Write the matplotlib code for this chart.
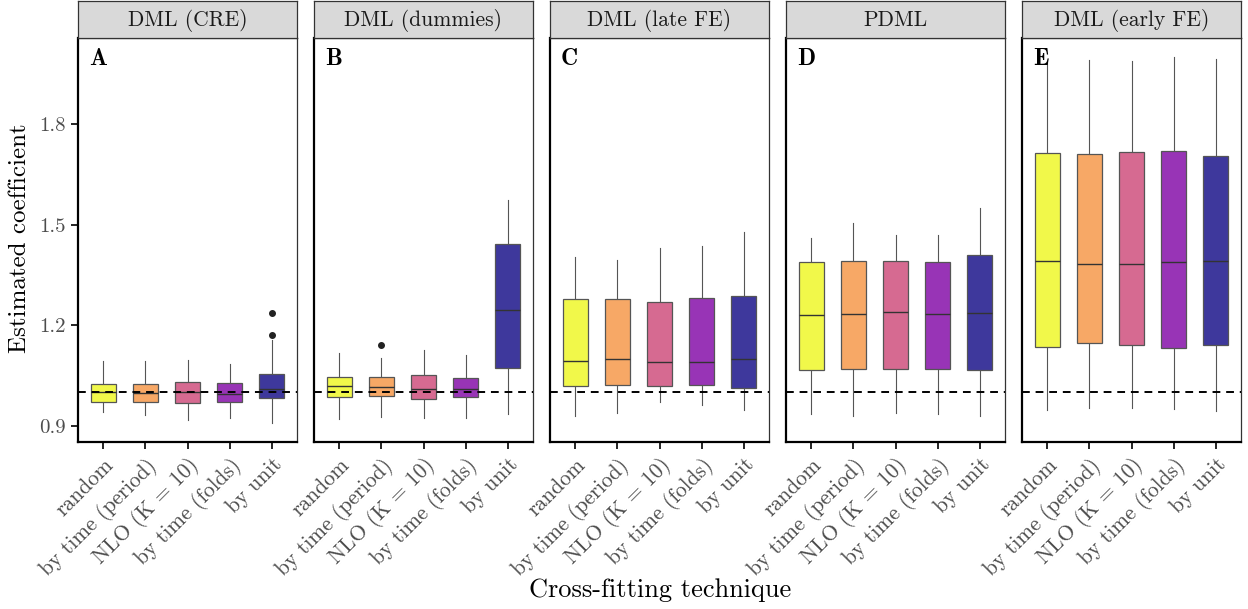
import numpy as np
import matplotlib
matplotlib.use('Agg')
import matplotlib.pyplot as plt

plt.rcParams['font.family'] = ['cmr10', 'DejaVu Serif']
plt.rcParams['axes.formatter.use_mathtext'] = True
plt.rcParams['mathtext.fontset'] = 'cm'

##facets and categories
panels = ['DML (CRE)', 'DML (dummies)', 'DML (late FE)', 'PDML', 'DML (early FE)']
letters = ['A', 'B', 'C', 'D', 'E']
techniques = ['random', 'by time (period)', 'NLO (K = 10)', 'by time (folds)', 'by unit']
colors = ['#F1F84A', '#F7A866', '#D66A91', '#9834B6', '#3E389C']

##five number summaries: [whislo, q1, med, q3, whishi]
crefive = [[0.940, 0.972, 1.001, 1.026, 1.092],
           [0.932, 0.972, 0.999, 1.026, 1.092],
           [0.918, 0.968, 1.002, 1.032, 1.097],
           [0.923, 0.971, 0.994, 1.029, 1.084],
           [0.910, 0.984, 1.011, 1.055, 1.156]]
dummiesfive = [[0.922, 0.987, 1.020, 1.047, 1.117],
               [0.926, 0.989, 1.017, 1.047, 1.102],
               [0.925, 0.980, 1.009, 1.053, 1.127],
               [0.923, 0.986, 1.011, 1.044, 1.111],
               [0.936, 1.074, 1.245, 1.443, 1.573]]
latefive = [[0.928, 1.019, 1.094, 1.278, 1.402],
            [0.938, 1.023, 1.098, 1.278, 1.395],
            [0.972, 1.020, 1.089, 1.270, 1.429],
            [0.963, 1.023, 1.090, 1.281, 1.436],
            [0.948, 1.014, 1.099, 1.288, 1.477]]
pdmlfive = [[0.936, 1.067, 1.231, 1.388, 1.459],
            [0.928, 1.070, 1.234, 1.391, 1.504],
            [0.938, 1.070, 1.239, 1.390, 1.469],
            [0.935, 1.069, 1.233, 1.387, 1.468],
            [0.930, 1.067, 1.236, 1.409, 1.549]]
earlyfive = [[0.948, 1.134, 1.391, 1.713, 1.981],
             [0.953, 1.146, 1.382, 1.711, 1.991],
             [0.954, 1.140, 1.381, 1.716, 1.988],
             [0.950, 1.132, 1.387, 1.719, 1.999],
             [0.943, 1.141, 1.391, 1.705, 1.994]]
allfive = [crefive, dummiesfive, latefive, pdmlfive, earlyfive]

##outliers: (panel, technique, value)
outliers = [(0, 4, 1.236), (0, 4, 1.170), (1, 1, 1.140)]

W, H = 1248, 609
fig = plt.figure(figsize=(W / 100, H / 100), dpi=100)

left0 = 78
pw = 219
gap = 17
ptop = 38
pbot = 442
ymin, ymax = 0.852, 2.056

for i, name in enumerate(panels):
    x0 = left0 + i * (pw + gap)
    ax = fig.add_axes([x0 / W, 1 - pbot / H, pw / W, (pbot - ptop) / H])
    stats = []
    for j, f in enumerate(allfive[i]):
        fl = [o[2] for o in outliers if o[0] == i and o[1] == j]
        stats.append(dict(whislo=f[0], q1=f[1], med=f[2], q3=f[3], whishi=f[4], fliers=fl))
    bp = ax.bxp(stats, positions=np.arange(1, 6), widths=0.6, patch_artist=True,
                showcaps=False,
                boxprops=dict(edgecolor='#555555', linewidth=0.9),
                medianprops=dict(color='#333333', linewidth=1.0),
                whiskerprops=dict(color='#555555', linewidth=0.8),
                flierprops=dict(marker='o', markerfacecolor='#222222', markeredgecolor='#222222',
                                markersize=4))
    for patch, c in zip(bp['boxes'], colors):
        patch.set_facecolor(c)
    for wl in bp['whiskers']:
        wl.set_zorder(1)
    ax.axhline(1.0, color='black', linestyle=(0, (4, 3)), linewidth=1.4, zorder=3)
    ax.set_xlim(0.4, 5.6)
    ax.set_ylim(ymin, ymax)
    ax.set_xticks(np.arange(1, 6))
    ax.set_xticklabels(techniques, rotation=45, ha='right', rotation_mode='anchor', fontsize=15.5,
                       color='#4d4d4d')
    ax.tick_params(axis='x', length=5, width=1.2, pad=4)
    ax.set_yticks([0.9, 1.2, 1.5, 1.8])
    if i == 0:
        ax.set_yticklabels(['0.9', '1.2', '1.5', '1.8'], fontsize=15, color='#4d4d4d')
        ax.tick_params(axis='y', length=5, width=1.2)
    else:
        ax.tick_params(axis='y', left=False, labelleft=False)
    for s in ['top', 'right']:
        ax.spines[s].set_linewidth(0.9)
        ax.spines[s].set_color('#333333')
    for s in ['left', 'bottom']:
        ax.spines[s].set_linewidth(1.6)
        ax.spines[s].set_color('black')
    ax.text(0.05, 0.975, letters[i], transform=ax.transAxes, ha='left', va='top',
            fontsize=17, family='cmb10')

    ##strip on top
    sax = fig.add_axes([x0 / W, 1 - ptop / H, pw / W, ptop / H - 0.002])
    sax.set_facecolor('#D9D9D9')
    sax.set_xticks([])
    sax.set_yticks([])
    for s in sax.spines.values():
        s.set_linewidth(0.9)
        s.set_color('#333333')
    sax.text(0.5, 0.47, name, ha='center', va='center', fontsize=15.5, color='#1a1a1a')

fig.text(20 / W, 1 - 238 / H, 'Estimated coefficient', rotation=90, ha='center', va='center',
         fontsize=18)
fig.text(660 / W, 1 - 590 / H, 'Cross-fitting technique', ha='center', va='center', fontsize=19)

fig.savefig('out.png', dpi=100)
